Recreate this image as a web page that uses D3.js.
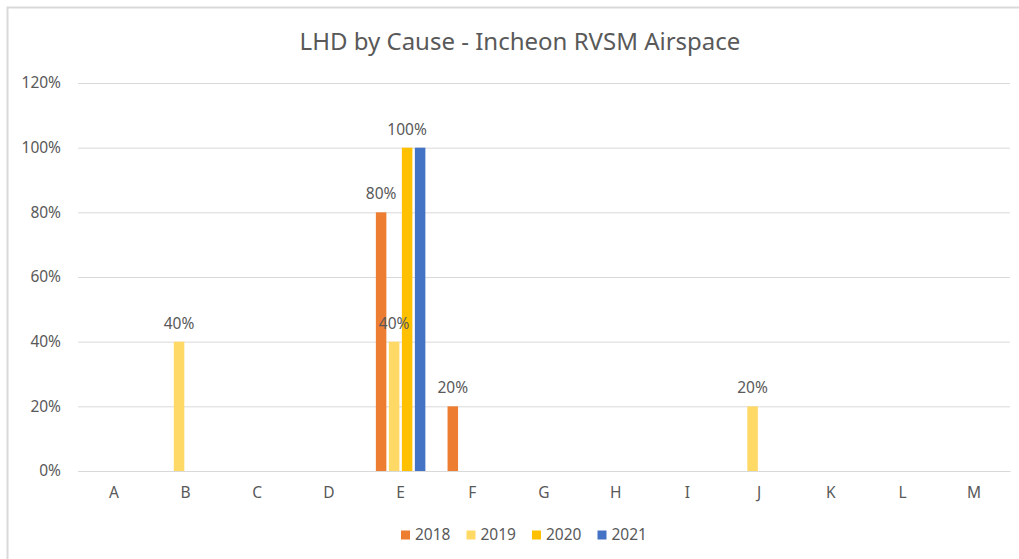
<!DOCTYPE html>
<html>
<head>
<meta charset="utf-8">
<script src="https://cdn.jsdelivr.net/npm/d3@7"></script>
<style>
  body { margin: 0; background: #fff; }
  svg { display: block; font-family: "Noto Sans", sans-serif; }
</style>
</head>
<body>
<svg width="1019" height="559"></svg>
<script>
// data
var causes = ["A", "B", "C", "D", "E", "F", "G", "H", "I", "J", "K", "L", "M"];
var years = ["2018", "2019", "2020", "2021"];
var v2018 = [0, 0, 0, 0, 0.8, 0.2, 0, 0, 0, 0, 0, 0, 0];
var v2019 = [0, 0.4, 0, 0, 0.4, 0, 0, 0, 0, 0.2, 0, 0, 0];
var v2020 = [0, 0, 0, 0, 1.0, 0, 0, 0, 0, 0, 0, 0, 0];
var v2021 = [0, 0, 0, 0, 1.0, 0, 0, 0, 0, 0, 0, 0, 0];
var yTicks = [0, 0.2, 0.4, 0.6, 0.8, 1.0, 1.2];
// label hidden in the original (overlaps the 2020 one)
var hiddenLabels = [["E", "2021"]];

var colors = ["#ED7D31", "#FFD966", "#FFC000", "#4472C4"];
var textColor = "#595959";

var svg = d3.select("svg");
var width = +svg.attr("width"), height = +svg.attr("height");

// chart frame
svg.append("rect")
    .attr("x", 7.5).attr("y", 7.5)
    .attr("width", width + 20).attr("height", height + 20)
    .attr("fill", "#fff")
    .attr("stroke", "#d9d9d9")
    .attr("stroke-width", 2);

var plot = {left: 78, right: 1010, top: 83, bottom: 471};

var x = d3.scaleBand().domain(causes).range([plot.left, plot.right]).padding(0);
var y = d3.scaleLinear().domain([0, 1.2]).range([plot.bottom, plot.top]);
var color = d3.scaleOrdinal().domain(years).range(colors);

svg.append("text")
    .attr("x", 520).attr("y", 50)
    .attr("text-anchor", "middle")
    .attr("fill", textColor)
    .style("font-size", "24px")
    .text("LHD by Cause - Incheon RVSM Airspace");

// gridlines + y labels
var yAxis = svg.append("g")
    .attr("transform", "translate(" + plot.left + ",0)")
    .call(d3.axisLeft(y).tickValues(yTicks)
        .tickSize(-(plot.right - plot.left))
        .tickPadding(17)
        .tickFormat(d3.format(".0%")));
yAxis.select(".domain").remove();
yAxis.selectAll("line").attr("stroke", "#d9d9d9").attr("stroke-width", 1);
yAxis.selectAll("text")
    .attr("fill", textColor)
    .style("font-size", "15.5px")
    .style("font-family", "Noto Sans, sans-serif");

// x axis
var xAxis = svg.append("g")
    .attr("transform", "translate(0," + plot.bottom + ")")
    .call(d3.axisBottom(x).tickSize(0).tickPadding(16));
xAxis.select(".domain").attr("stroke", "#d9d9d9");
xAxis.selectAll("text")
    .attr("fill", textColor)
    .style("font-size", "15.5px")
    .style("font-family", "Noto Sans, sans-serif");

var series = [v2018, v2019, v2020, v2021].map(function(vals, i) {
  return {
    year: years[i],
    index: i,
    values: vals.map(function(v, j) { return {cause: causes[j], year: years[i], value: v, index: i}; })
  };
});

var barStep = 13, barWidth = 10.5;
function barX(d) {
  return x(d.cause) + x.bandwidth() / 2 + (d.index - 1.5) * barStep - barWidth / 2;
}

var groups = svg.selectAll(".series")
  .data(series)
  .enter().append("g")
    .attr("class", "series")
    .attr("fill", function(d) { return color(d.year); });

groups.selectAll("rect")
  .data(function(d) { return d.values.filter(function(p) { return p.value > 0; }); })
  .enter().append("rect")
    .attr("x", barX)
    .attr("width", barWidth)
    .attr("y", function(d) { return y(d.value); })
    .attr("height", function(d) { return y(0) - y(d.value); });

function isHidden(d) {
  return hiddenLabels.some(function(h) { return h[0] === d.cause && h[1] === d.year; });
}

var allPoints = [];
series.forEach(function(s) { allPoints = allPoints.concat(s.values); });

svg.append("g").selectAll("text")
  .data(allPoints.filter(function(d) { return d.value > 0 && !isHidden(d); }))
  .enter().append("text")
    .attr("x", function(d) { return barX(d) + barWidth / 2; })
    .attr("y", function(d) { return y(d.value) - 13; })
    .attr("text-anchor", "middle")
    .attr("fill", textColor)
    .style("font-size", "15.5px")
    .text(function(d) { return d3.format(".0%")(d.value); });

// legend
var legend = svg.append("g").attr("transform", "translate(401,535)");
var item = legend.selectAll("g")
  .data(years)
  .enter().append("g")
    .attr("transform", function(d, i) { return "translate(" + (i * 65.5) + ",0)"; });
item.append("rect")
    .attr("x", 0).attr("y", -4.5)
    .attr("width", 9).attr("height", 9)
    .attr("fill", function(d) { return color(d); });
item.append("text")
    .attr("x", 14).attr("y", 0)
    .attr("dy", "0.35em")
    .attr("fill", textColor)
    .style("font-size", "15.5px")
    .text(function(d) { return d; });
</script>
</body>
</html>
